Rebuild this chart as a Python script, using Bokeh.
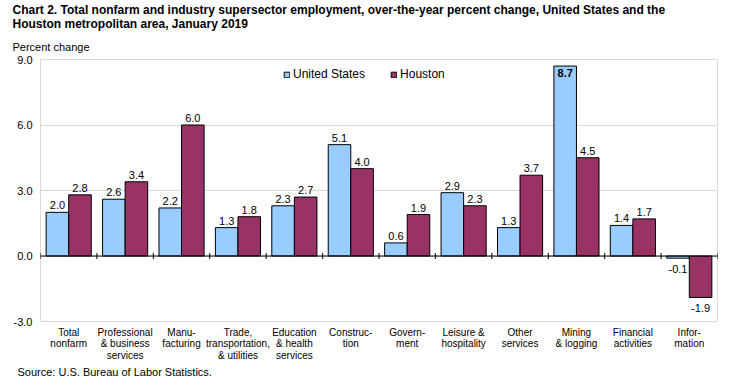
from bokeh.plotting import figure
from bokeh.models import (Range1d, FixedTicker, Title, Legend, LegendItem,
                          ColumnDataSource, Span, NumeralTickFormatter)
from bokeh.embed import file_html
from bokeh.resources import INLINE
from bokeh.core.properties import value

# ---------------- data ----------------
categories = ["Total\nnonfarm", "Professional\n& business\nservices", "Manu-\nfacturing",
              "Trade,\ntransportation,\n& utilities", "Education\n& health\nservices",
              "Construc-\ntion", "Govern-\nment", "Leisure &\nhospitality", "Other\nservices",
              "Mining\n& logging", "Financial\nactivities", "Infor-\nmation"]
us = [2.0, 2.6, 2.2, 1.3, 2.3, 5.1, 0.6, 2.9, 1.3, 8.7, 1.4, -0.1]
houston = [2.8, 3.4, 6.0, 1.8, 2.7, 4.0, 1.9, 2.3, 3.7, 4.5, 1.7, -1.9]
series_names = ["United States", "Houston"]
y_ticks = [-3.0, 0.0, 3.0, 6.0, 9.0]
title_lines = ["Chart 2. Total nonfarm and industry supersector employment, over-the-year percent change, United States and the",
               "Houston metropolitan area, January 2019"]
y_title = "Percent change"
source_note = "Source: U.S. Bureau of Labor Statistics."

# ---------------- style ----------------
FONT = "Liberation Sans"
US_COLOR = "#99CCFF"
HOU_COLOR = "#993366"
GRID = "#D9D9D9"
W, H = 731, 384
B_LEFT, B_RIGHT, B_TOP, B_BOTTOM = 40, 14, 59, 63
frame_h = H - B_TOP - B_BOTTOM
ymin, ymax = y_ticks[0], y_ticks[-1]
n = len(categories)

p = figure(width=W, height=H, output_backend="svg", toolbar_location=None,
           x_range=Range1d(0, n), y_range=Range1d(ymin, ymax),
           min_border_left=B_LEFT, min_border_right=B_RIGHT,
           min_border_top=B_TOP, min_border_bottom=B_BOTTOM)
p.outline_line_color = GRID
p.background_fill_color = "white"
p.border_fill_color = "white"

# grid
p.xgrid.visible = False
p.ygrid.ticker = FixedTicker(ticks=y_ticks)
p.ygrid.grid_line_color = GRID

# y axis
ya = p.yaxis[0]
ya.ticker = FixedTicker(ticks=y_ticks)
ya.formatter = NumeralTickFormatter(format="0.0")
ya.axis_line_color = None
ya.major_tick_line_color = None
ya.minor_tick_line_color = None
ya.major_tick_out = 0
ya.major_tick_in = 0
ya.major_label_standoff = 8
ya.major_label_text_font = FONT
ya.major_label_text_font_size = "11px"
ya.major_label_text_color = "black"

# x axis
xa = p.xaxis[0]
centers = [i + 0.5 for i in range(n)]
xa.ticker = FixedTicker(ticks=centers)
xa.major_label_overrides = {c: lab for c, lab in zip(centers, categories)}
xa.axis_line_color = None
xa.major_tick_line_color = None
xa.minor_tick_line_color = None
xa.major_tick_out = 0
xa.major_tick_in = 0
xa.major_label_standoff = 5
xa.major_label_text_font = FONT
xa.major_label_text_font_size = "10px"
xa.major_label_text_line_height = 1.05
xa.major_label_text_color = "black"
xa.major_label_orientation = "horizontal"

# bars
bar_w = 0.4
src = ColumnDataSource(dict(
    x_us=[i + 0.3 for i in range(n)], x_h=[i + 0.7 for i in range(n)],
    us=us, houston=houston))
r_us = p.vbar(x="x_us", top="us", bottom=0, width=bar_w, source=src,
              fill_color=US_COLOR, line_color="black", line_width=1)
r_h = p.vbar(x="x_h", top="houston", bottom=0, width=bar_w, source=src,
             fill_color=HOU_COLOR, line_color="black", line_width=1)

# zero line with category boundary ticks
p.add_layout(Span(location=0, dimension="width", line_color="black", line_width=1))
tick_half = 3.0 * (ymax - ymin) / frame_h
bounds = list(range(n + 1))
p.segment(x0=bounds, x1=bounds, y0=[-tick_half] * len(bounds), y1=[tick_half] * len(bounds),
          line_color="black", line_width=1)

# value labels
def label_cols(xs, vals):
    ys, base, offs, styles = [], [], [], []
    for v in vals:
        ys.append(v)
        if v > ymax - 0.8:
            base.append("top"); offs.append(3); styles.append("bold")
        elif v >= 0:
            base.append("bottom"); offs.append(-3); styles.append("normal")
        else:
            base.append("top"); offs.append(7); styles.append("normal")
    return dict(x=xs, y=ys, text=["%.1f" % v for v in vals], base=base, off=offs, style=styles)

for xs, vals in ((src.data["x_us"], us), (src.data["x_h"], houston)):
    ls = ColumnDataSource(label_cols(xs, vals))
    p.text(x="x", y="y", text="text", source=ls, text_align="center",
           text_baseline="base", y_offset="off", text_font_style="style",
           text_font=value(FONT), text_font_size="11px", text_color="black")

# legend
legend = Legend(items=[LegendItem(label=series_names[0], renderers=[r_us]),
                       LegendItem(label=series_names[1], renderers=[r_h])],
                orientation="horizontal", location=(243, 240),
                glyph_width=7, glyph_height=7, label_standoff=3, spacing=25,
                padding=0, margin=0, border_line_color=None,
                background_fill_alpha=0, label_text_font=FONT,
                label_text_font_size="12px", label_text_color="black")
p.add_layout(legend, "center")

# titles above (later added = further out)
p.add_layout(Title(text=y_title, align="left", offset=-28, standoff=13,
                   text_font=FONT, text_font_size="11px", text_font_style="normal",
                   text_color="black"), "above")
p.add_layout(Title(text=title_lines[1], align="left", offset=-28, standoff=3,
                   text_font=FONT, text_font_size="12px", text_font_style="bold",
                   text_color="black"), "above")
p.add_layout(Title(text=title_lines[0], align="left", offset=-28, standoff=-7,
                   text_font=FONT, text_font_size="12px", text_font_style="bold",
                   text_color="black"), "above")
# source note below the axis
p.add_layout(Title(text=source_note, align="left", offset=-23, standoff=1,
                   text_font=FONT, text_font_size="11px", text_font_style="normal",
                   text_color="black"), "below")

open("out.html", "w").write(file_html(p, INLINE))
